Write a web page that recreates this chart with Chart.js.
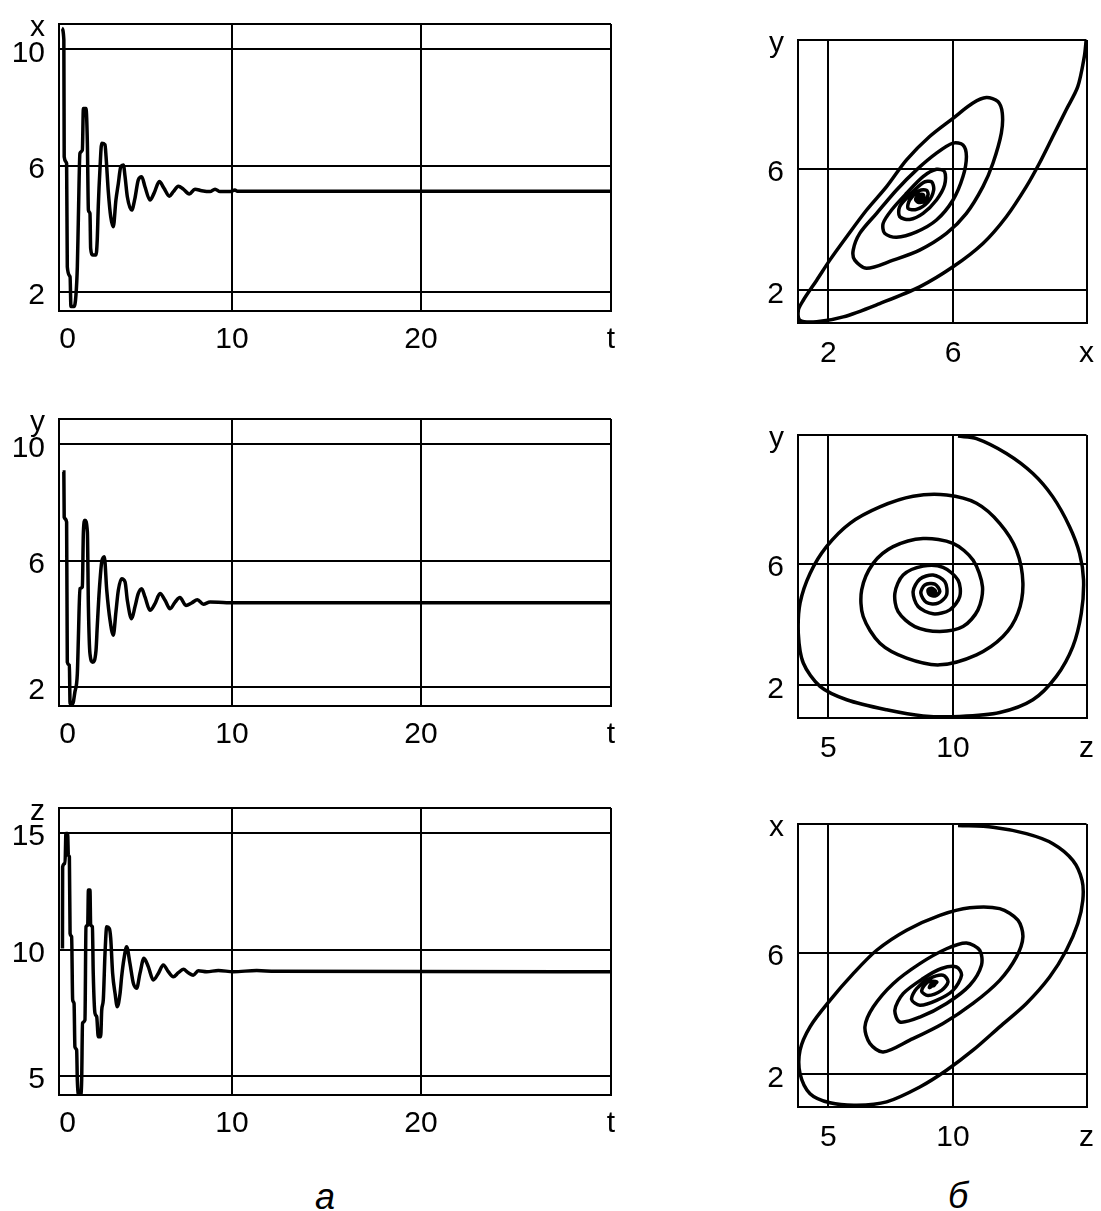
<!DOCTYPE html>
<html>
<head>
<meta charset="utf-8">
<title>Фазовые портреты</title>
<script src="https://cdn.jsdelivr.net/npm/chart.js@4.4.1/dist/chart.umd.min.js"></script>
<style>
  html, body { margin: 0; padding: 0; background: #fff; overflow: hidden; width: 1101px; height: 1211px; }
  .panel { position: absolute; }
  .caption {
    position: absolute; width: 60px; text-align: center; line-height: 36px;
    font: italic 36px "Liberation Sans Narrow", "Liberation Sans", Arial, sans-serif; color: #000;
  }
</style>
</head>
<body>
<div class="panel" style="left:0px; top:-21px"><canvas id="xt" width="631" height="392"></canvas></div>
<div class="panel" style="left:0px; top:374px"><canvas id="yt" width="631" height="392"></canvas></div>
<div class="panel" style="left:0px; top:763px"><canvas id="zt" width="631" height="392"></canvas></div>
<div class="panel" style="left:738px; top:-5px"><canvas id="yx" width="369" height="388"></canvas></div>
<div class="panel" style="left:738px; top:390px"><canvas id="yz" width="369" height="388"></canvas></div>
<div class="panel" style="left:738px; top:779px"><canvas id="xz" width="369" height="388"></canvas></div>
<div class="caption" style="left:295px; top:1176px">а</div>
<div class="caption" style="left:928px; top:1175px">б</div>

<script>
// ---- time series (left column) ----
const xtT = [0.16,0.28,0.30,0.44,0.48,0.64,0.69,0.87,0.98,1.06,1.12,1.21,1.35,1.41,1.56,1.64,1.70,1.79,1.83,1.95,2.14,2.21,2.27,2.37,2.47,2.66,2.72,2.85,2.99,3.14,3.29,3.43,3.57,3.72,3.82,3.95,4.20,4.39,4.58,4.78,4.97,5.26,5.49,5.80,6.07,6.38,6.61,6.90,7.19,7.53,7.86,8.25,8.73,9.02,9.31,9.88,10.17,10.31,31.91];
const xtX = [10.69,10.31,6.46,6.24,2.83,2.50,1.52,1.52,1.90,2.83,4.43,6.57,6.68,8.05,8.05,6.90,4.70,4.59,3.44,3.22,3.22,3.71,4.81,6.08,6.90,6.85,6.46,5.31,4.48,4.15,5.03,5.58,6.13,6.19,5.80,5.14,4.70,5.09,5.69,5.80,5.47,5.03,5.25,5.64,5.42,5.16,5.31,5.49,5.39,5.23,5.39,5.34,5.31,5.39,5.31,5.31,5.36,5.32,5.32];

const ytT = [0.21,0.28,0.30,0.44,0.48,0.60,0.64,0.79,0.92,1.06,1.12,1.21,1.35,1.41,1.50,1.64,1.70,1.79,1.95,2.14,2.21,2.33,2.47,2.62,2.76,2.95,3.14,3.29,3.43,3.62,3.82,3.95,4.20,4.39,4.58,4.78,4.97,5.26,5.55,5.84,6.13,6.42,6.71,6.99,7.34,7.67,8.00,8.34,8.73,9.69,31.91];
const ytY = [9.09,9.09,7.60,7.44,2.82,2.72,1.45,1.45,1.84,2.44,3.60,5.24,5.30,7.11,7.50,7.11,4.64,3.10,2.82,3.21,3.98,5.19,6.12,6.29,5.19,4.20,3.71,4.47,5.19,5.57,5.46,4.86,4.25,4.64,5.08,5.24,4.97,4.53,4.75,5.08,4.86,4.58,4.80,4.95,4.69,4.77,4.88,4.73,4.80,4.78,4.78];

const ztT = [0.20,0.21,0.35,0.40,0.50,0.54,0.60,0.64,0.73,0.79,0.87,0.92,1.02,1.06,1.14,1.25,1.31,1.36,1.50,1.56,1.66,1.70,1.79,1.83,1.93,1.98,2.08,2.18,2.27,2.41,2.47,2.56,2.66,2.76,2.91,2.99,3.10,3.24,3.37,3.53,3.62,3.76,3.91,4.10,4.30,4.49,4.68,4.91,5.16,5.45,5.74,6.03,6.32,6.61,6.90,7.19,7.47,7.76,8.05,8.54,9.21,10.08,11.43,12.49,31.91];
const ztZ = [10.24,13.60,13.74,14.97,14.97,14.08,14.01,10.86,10.72,8.12,7.98,6.19,6.06,4.82,4.20,4.20,4.82,7.16,7.29,11.13,11.20,12.64,12.64,11.20,11.13,9.21,7.57,7.43,6.60,6.60,7.70,8.12,10.04,11.13,11.06,10.65,9.21,8.39,7.84,8.39,9.07,9.83,10.31,9.63,8.80,8.60,9.21,9.83,9.49,8.94,9.21,9.56,9.28,9.07,9.24,9.38,9.24,9.14,9.32,9.28,9.33,9.28,9.33,9.30,9.28];

// ---- phase portraits (right column) ----
const yxX = [10.27,10.21,10.00,9.63,9.20,8.77,8.35,7.71,6.96,6.00,4.93,3.65,2.48,1.63,1.09,1.04,1.20,1.63,2.05,2.59,3.23,3.87,4.51,5.25,6.00,6.64,7.07,7.44,7.58,7.55,7.28,6.96,6.43,5.79,4.93,4.08,3.23,2.85,2.80,3.01,3.55,4.19,4.83,5.47,6.00,6.32,6.43,6.32,6.00,5.47,4.83,4.19,3.81,3.76,4.03,4.51,5.04,5.47,5.73,5.73,5.47,5.04,4.61,4.29,4.29,4.61,5.04,5.31,5.38,5.20,4.83,4.56,4.61,4.93,5.15,5.20,5.10,4.90,4.80,4.90,5.05,5.05,4.95,4.88,4.95,5.02,4.98];
const yxY = [10.25,9.70,8.71,7.95,7.07,6.19,5.42,4.43,3.55,2.78,2.12,1.57,1.13,0.97,1.02,1.35,1.68,2.34,3.00,3.77,4.65,5.42,6.30,7.07,7.67,8.17,8.35,8.22,7.84,7.18,6.19,5.42,4.54,3.88,3.33,3.00,2.73,3.00,3.33,3.88,4.54,5.31,5.97,6.52,6.85,6.79,6.41,5.75,4.98,4.32,3.93,3.75,3.88,4.21,4.65,5.20,5.75,5.99,5.91,5.47,4.98,4.54,4.34,4.43,4.76,5.14,5.55,5.58,5.31,4.92,4.67,4.70,4.98,5.29,5.30,5.15,4.95,4.90,5.00,5.15,5.15,5.00,5.05,5.02,4.98,5.08,5.05];

const yzZ = [10.20,10.94,12.14,13.20,14.00,14.67,15.07,15.23,15.14,14.80,14.14,13.20,11.87,10.27,8.80,7.34,5.74,4.67,4.00,3.80,3.87,4.27,4.93,5.87,7.07,8.40,9.74,10.94,11.87,12.54,12.80,12.60,12.00,10.94,9.47,8.14,7.07,6.40,6.34,6.80,7.60,8.80,10.00,10.80,11.18,11.00,10.40,9.47,8.47,7.80,7.67,8.00,8.80,9.60,10.20,10.27,9.87,9.20,8.60,8.40,8.67,9.20,9.67,9.74,9.40,8.94,8.71,8.87,9.27,9.47,9.30,9.05,9.00,9.14,9.30,9.25,9.05,9.05,9.20,9.18,9.10,9.14];
const yzY = [10.21,10.13,9.64,8.98,8.21,7.23,6.35,5.47,4.38,3.28,2.30,1.53,1.11,0.98,1.00,1.20,1.53,1.97,2.74,3.72,4.71,5.69,6.57,7.34,7.88,8.23,8.27,8.00,7.34,6.46,5.37,4.38,3.61,3.01,2.68,2.90,3.39,4.27,5.15,6.02,6.57,6.84,6.68,6.13,5.25,4.49,3.94,3.78,3.94,4.43,5.04,5.64,5.93,5.89,5.47,4.93,4.49,4.36,4.60,5.09,5.50,5.64,5.42,4.98,4.71,4.73,5.04,5.31,5.34,5.10,4.95,5.00,5.15,5.20,5.10,4.95,5.00,5.15,5.12,5.02,5.06,5.09];

const xzZ = [10.20,11.60,12.94,14.00,14.80,15.17,15.20,15.00,14.54,13.87,12.94,11.87,10.80,9.74,8.67,7.34,6.14,5.07,4.27,3.87,3.87,4.27,5.07,6.00,6.94,8.14,9.47,10.67,11.87,12.60,12.80,12.54,11.87,10.80,9.60,8.27,7.20,6.67,6.47,6.80,7.60,8.67,9.74,10.54,11.07,11.14,10.67,9.74,8.67,7.87,7.67,8.00,8.80,9.54,10.14,10.34,10.00,9.34,8.67,8.34,8.54,9.07,9.60,9.80,9.54,9.00,8.74,9.00,9.35,9.20,9.05,9.15,9.30,9.22,9.15];
const xzX = [10.20,10.14,9.93,9.60,9.05,8.39,7.73,6.97,6.09,5.21,4.34,3.57,2.80,2.14,1.59,1.10,0.99,1.07,1.37,2.03,2.80,3.57,4.44,5.32,6.09,6.75,7.24,7.49,7.46,7.08,6.53,5.87,5.10,4.34,3.68,3.13,2.74,3.02,3.57,4.22,4.99,5.65,6.14,6.33,6.09,5.60,4.94,4.34,3.89,3.73,4.12,4.66,5.16,5.49,5.54,5.27,4.77,4.44,4.28,4.47,4.83,5.16,5.27,5.05,4.77,4.60,4.75,5.05,5.05,4.94,4.86,5.00,5.02,4.92,4.94];

// ---- axes: tick values and labels ----
const tTicks = [0.49, 10, 20.92, 31.91];
const tLabels = ['0', '10', '20', 't'];
const xyTicksL = [2, 6.154, 10, 10.834];
const xLabelsL = ['2', '6', '10', 'x'];
const yLabelsL = ['2', '6', '10', 'y'];
const zTicksL = [5, 10.17, 15, 16.02];
const zLabelsL = ['5', '10', '15', 'z'];
const phaseTicks = [2, 6, 10.247];
const phaseXTicks = [2, 6, 10.28];
const phaseZTicks = [5, 10, 15.348];

const FONT = { family: '"Liberation Sans", Arial, sans-serif', size: 30 };

function axis(dir, min, max, vals, labels, noGrid, size, pad) {
  return {
    type: 'linear',
    min: min,
    max: max,
    afterBuildTicks: s => { s.ticks = vals.map(v => ({ value: v })); },
    afterFit: s => { if (dir === 'x') s.height = size; else s.width = size; },
    ticks: {
      autoSkip: false, maxRotation: 0, minRotation: 0,
      padding: pad, color: '#000', font: FONT,
      labelOffset: dir === 'y' ? 4 : 0,
      callback: (v, i) => labels[i]
    },
    grid: {
      drawTicks: false,
      lineWidth: 2,
      color: c => noGrid.includes(c.index) ? 'rgba(0,0,0,0)' : '#000'
    },
    border: { display: true, color: '#000', width: 2 }
  };
}

function panel(id, xs, ys, xAxis, yAxis, smooth) {
  new Chart(document.getElementById(id), {
    type: 'line',
    data: {
      datasets: [{
        data: xs.map((v, i) => ({ x: v, y: ys[i] })),
        borderColor: '#000',
        borderWidth: 3.5,
        pointRadius: 0,
        fill: false,
        tension: 0.3,
        cubicInterpolationMode: smooth
      }]
    },
    options: {
      responsive: false,
      animation: false,
      devicePixelRatio: 1,
      layout: { padding: { top: 45, right: 20, left: 0, bottom: 0 } },
      plugins: { legend: { display: false }, tooltip: { enabled: false } },
      scales: { x: xAxis, y: yAxis }
    }
  });
}

panel('xt', xtT, xtX,
  axis('x', 0, 31.91, tTicks, tLabels, [0], 60, 11),
  axis('y', 1.374, 10.834, xyTicksL, xLabelsL, [], 59, 14), 'monotone');
panel('yt', ytT, ytY,
  axis('x', 0, 31.91, tTicks, tLabels, [0], 60, 11),
  axis('y', 1.374, 10.834, xyTicksL, yLabelsL, [], 59, 14), 'monotone');
panel('zt', ztT, ztZ,
  axis('x', 0, 31.91, tTicks, tLabels, [0], 60, 11),
  axis('y', 4.206, 16.02, zTicksL, zLabelsL, [], 59, 14), 'monotone');

panel('yx', yxX, yxY,
  axis('x', 1.03, 10.28, phaseXTicks, ['2', '6', 'x'], [], 60, 13),
  axis('y', 0.93, 10.247, phaseTicks, ['2', '6', 'y'], [], 60, 14), 'default');
panel('yz', yzZ, yzY,
  axis('x', 3.788, 15.348, phaseZTicks, ['5', '10', 'z'], [], 60, 13),
  axis('y', 0.93, 10.247, phaseTicks, ['2', '6', 'y'], [], 60, 14), 'default');
panel('xz', xzZ, xzX,
  axis('x', 3.788, 15.348, phaseZTicks, ['5', '10', 'z'], [], 60, 13),
  axis('y', 0.93, 10.247, phaseTicks, ['2', '6', 'x'], [], 60, 14), 'default');
</script>
</body>
</html>
